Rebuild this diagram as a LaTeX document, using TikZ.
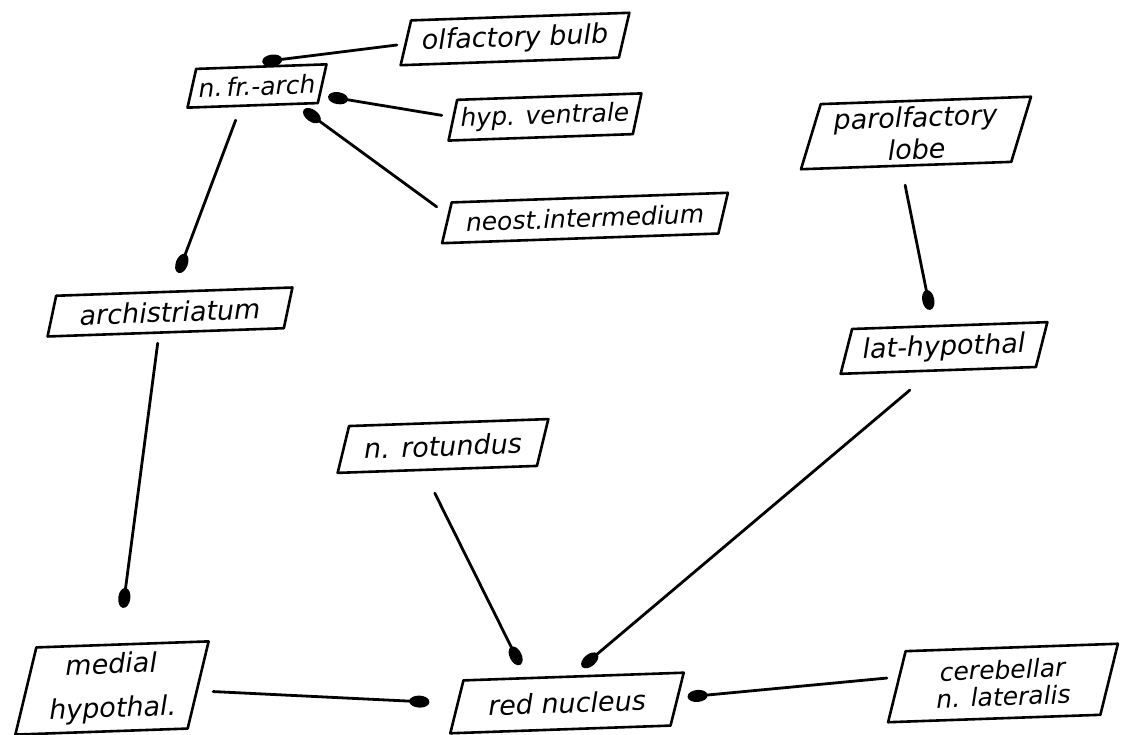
\documentclass[tikz,border=0pt]{standalone}
\usepackage{fontspec}
\setmainfont{DejaVu Sans}
\usetikzlibrary{arrows.meta,calc}
\newcommand\pgram[2]{\draw[boxline] ($(#1.north west)!#2!(#1.north east)$) -- (#1.north east) -- ($(#1.south east)!#2!(#1.south west)$) -- (#1.south west) -- cycle;}
\begin{document}
\begin{tikzpicture}[x=1pt,y=1pt,
  pb/.style 2 args={rotate=2, minimum width=#1, minimum height=#2, inner sep=0pt,
    align=center, font=\fontsize{27}{32}\selectfont\itshape},
  boxline/.style={line width=2.6pt, line join=round},
  arr/.style={line width=2.8pt, line cap=round, -{Ellipse[length=20pt,width=12pt]}}]
\fill[white] (0,0) rectangle (1133,735);
\useasboundingbox (0,0) rectangle (1133,735);

\node[pb={230}{44}] (olf) at (515,696) {olfactory bulb};
\node[pb={140}{38}, font=\fontsize{25}{28}\selectfont\itshape] (nfr) at (257,649) {n.\,fr.-arch};
\node[pb={194}{40}, font=\fontsize{25}{28}\selectfont\itshape] (hyp) at (545,618) {hyp. ventrale};
\node[pb={287}{40}, font=\fontsize{25}{28}\selectfont\itshape] (neost) at (585,517) {neost.intermedium};
\node[pb={232}{64}] (parolf) at (916,602) {parolfactory\\lobe};
\node[pb={208}{44}] (lathyp) at (944,387) {lat-hypothal};
\node[pb={246}{40}] (arch) at (170,423) {archistriatum};
\node[pb={212}{46}] (rot) at (443,289) {n. rotundus};
\node[pb={196}{86}] (medial) at (112,47) {medial\\[12pt]hypothal.};
\node[pb={235}{52}] (red) at (567,32) {red nucleus};
\node[pb={232}{70}, font=\fontsize{25}{27}\selectfont\itshape] (cereb) at (1003,52) {cerebellar\\n. lateralis};

\pgram{olf}{12pt}
\pgram{nfr}{10pt}
\pgram{hyp}{10pt}
\pgram{neost}{11pt}
\pgram{parolf}{22pt}
\pgram{lathyp}{13pt}
\pgram{arch}{10pt}
\pgram{rot}{13pt}
\pgram{medial}{24pt}
\pgram{red}{15pt}
\pgram{cereb}{20pt}

\draw[arr] ($(olf.west)+(-3,-2)$) -- ($(nfr.north)+(6,5)$);
\draw[arr] ($(hyp.west)+(-6,5)$) -- ($(nfr.east)+(1,-13)$);
\draw[arr] ($(neost.north west)+(-4,-4)$) -- ($(nfr.south east)+(-24,-7)$);
\draw[arr] ($(nfr.south)+(-22,-15)$) -- ($(arch.north)+(9,19)$);
\draw[arr] ($(arch.south)+(-13,-11)$) -- ($(medial.north)+(12.5,37)$);
\draw[arr] ($(parolf.south)+(-12,-20)$) -- ($(lathyp.north)+(-13,16)$);
\draw[arr] ($(lathyp.south)+(-35,-20)$) -- ($(red.north)+(16,10)$);
\draw[arr] ($(rot.south)+(-9,-24)$) -- ($(red.north)+(-46,12)$);
\draw[arr] ($(medial.east)+(3,-7)$) -- ($(red.west)+(-20,5)$);
\draw[arr] ($(cereb.west)+(0,9)$) -- ($(red.east)+(3,2)$);
\end{tikzpicture}
\end{document}
